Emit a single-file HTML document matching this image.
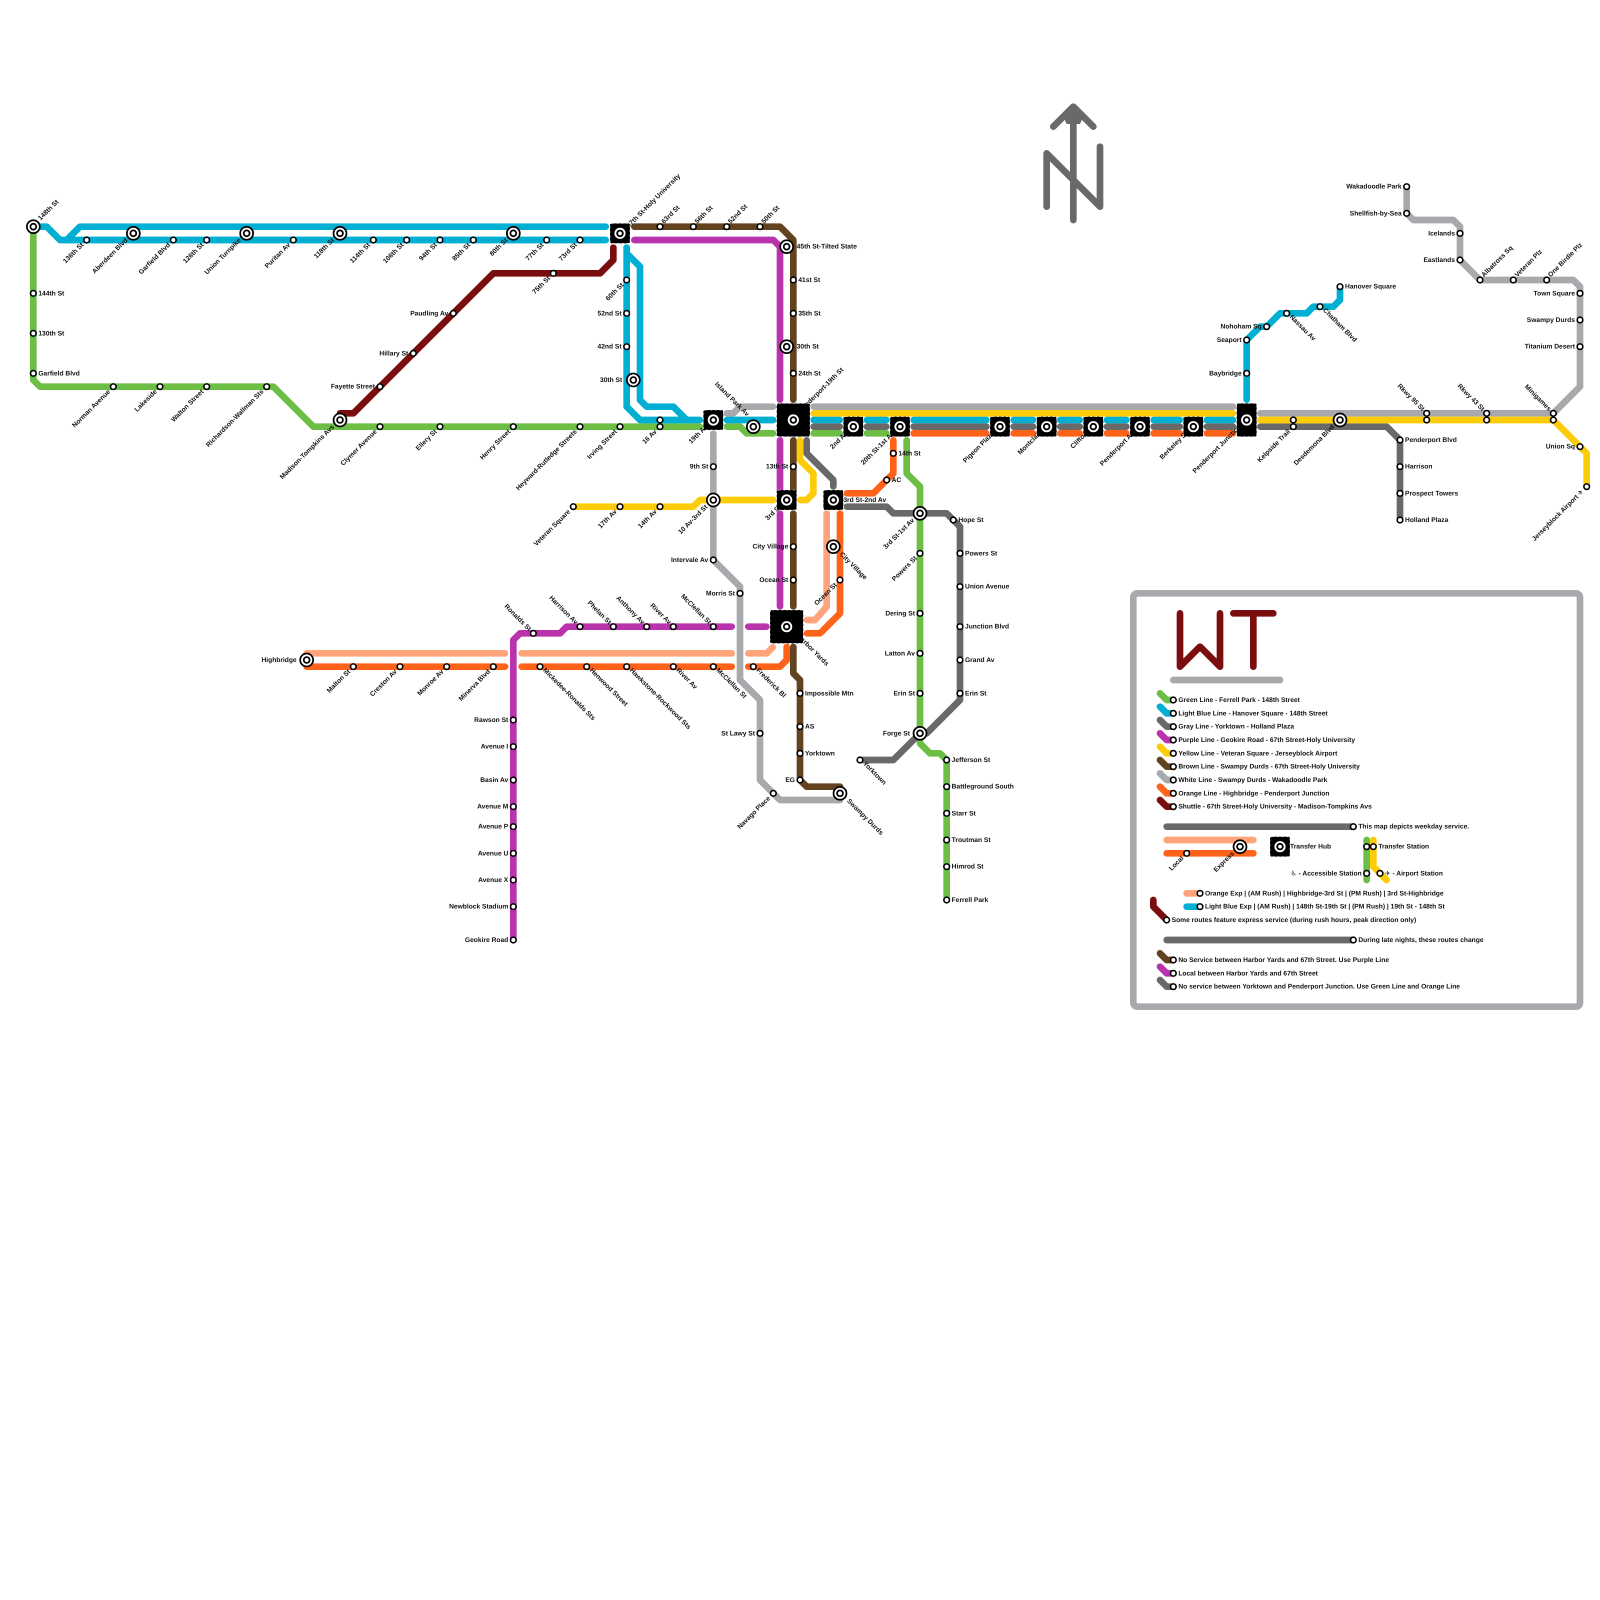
<!DOCTYPE html>
<html><head><meta charset="utf-8"><title>WT Transit Map</title>
<style>
html,body{margin:0;padding:0;background:#fff}
svg{display:block}
text{font-family:"Liberation Sans","DejaVu Sans",sans-serif;font-size:1px;font-weight:bold;fill:#111;text-rendering:geometricPrecision}
.ln{fill:none;stroke-width:1;stroke-linecap:round;stroke-linejoin:round}
.g{stroke:#6cbe45}.b{stroke:#00afd1}.y{stroke:#696969}.p{stroke:#b933ad}.o{stroke:#fccc0a}.n{stroke:#62421f}.w{stroke:#a7a9ac}.r{stroke:#ff6319}.s{stroke:#7a0e0e}.k{stroke:#ffa37a}
.end{text-anchor:end}
</style></head><body>
<svg xmlns="http://www.w3.org/2000/svg" width="1600" height="1600" viewBox="0 0 240 240">
<defs>
<g id="s"><circle r=".42" fill="#fff" stroke="#000" stroke-width=".24"/></g>
<g id="d"><circle r=".97" fill="#fff" stroke="#000" stroke-width=".26"/><circle r=".44" fill="#fff" stroke="#000" stroke-width=".26"/></g>
<g id="c"><circle r=".7" fill="#000" stroke="#fff" stroke-width=".28"/><circle r=".28" fill="#fff"/></g>
<g id="h3"><rect x="-1.5" y="-1.5" width="3" height="3" rx=".3" fill="#000" stroke="#fff" stroke-width=".08" stroke-dasharray=".35 .35"/><use href="#c"/></g>
<g id="h5"><rect x="-2.5" y="-2.5" width="5" height="5" rx=".3" fill="#000" stroke="#fff" stroke-width=".08" stroke-dasharray=".35 .35"/><use href="#c"/></g>
<g id="hv"><rect x="-1.5" y="-2.5" width="3" height="5" rx=".3" fill="#000" stroke="#fff" stroke-width=".08" stroke-dasharray=".35 .35"/><use href="#c"/></g>
</defs>

<!-- north arrow -->
<g class="ln" style="stroke:#696969">
<path d="M161,33V16.5"/>
<path d="M158,19L161,16L164,19" />
<path d="M157,31V23L165,31V22"/>
</g>
<polygon points="159.5,17.5 161,16 162.5,17.5 162,18.6 160,18.6" fill="#696969"/>

<!-- legend frame -->
<rect x="170" y="89" width="67" height="62" rx=".6" fill="#fff" stroke="#a7a9ac" stroke-width="1"/>
<g class="ln">
<path class="s" d="M177,92V100L180,97L183,100V92M185,92H191M188,92V100"/>
<path class="w" d="M176,102H192"/>
<path class="g" d="M174,104L175,105H176"/>
<path class="b" d="M174,106L175,107H176"/>
<path class="y" d="M174,108L175,109H176"/>
<path class="p" d="M174,110L175,111H176"/>
<path class="o" d="M174,112L175,113H176"/>
<path class="n" d="M174,114L175,115H176"/>
<path class="w" d="M174,116L175,117H176"/>
<path class="r" d="M174,118L175,119H176"/>
<path class="s" d="M174,120L175,121H176"/>
<path class="y" d="M175,124H203"/>
<path class="k" d="M175,126H188"/>
<path class="r" d="M175,128H188"/>
<path class="g" d="M205,126V132"/>
<path class="o" d="M206,126V130L208,132"/>
<path class="k" d="M178,134H180"/>
<path class="b" d="M178,136H180"/>
<path class="s" d="M173,135V136L175,138"/>
<path class="y" d="M175,141H203"/>
<path class="n" d="M174,143L175,144H176"/>
<path class="p" d="M174,145L175,146H176"/>
<path class="y" d="M174,147L175,148H176"/>
</g>

<!-- lines -->
<g class="ln">
<!-- white -->
<path class="w" d="M109.05,62H110L111,61H115.95M122.05,61H184.95M189.05,62H233L237,58V43L236,42H222L219,39V34L218,33H212L211,32V28"/>
<path class="w" d="M107,65.05V84L111,88V102L114,105V117L117,120H126"/>
<!-- green -->
<path class="g" d="M5,34V57L6,58H41L47,64H104.95M109.05,64H111L112,65H115.95M122.05,65H125.95M130.05,65H132.95"/>
<path class="g" d="M136,66.05V71L138,73V111.5L139.5,113H141L142,114V135"/>
<!-- blue -->
<path class="b" d="M5,34H7L9,36H90.85M10,36L12,34H90.85"/>
<path class="b" d="M94,37.15V61L96,63H104.95M94,38L96,40V60L97,61H101L103,63M109.05,63H115.95"/>
<path class="b" d="M122.05,63H125.95M130.05,63H132.95M137.05,63H147.95M152.05,63H154.95M159.05,63H161.95M166.05,63H168.95M173.05,63H176.95M181.05,63H184.95"/>
<path class="b" d="M187,59.95V51L189,49H190L192,47H196L197,46H200L201,45V43"/>
<!-- gray -->
<path class="y" d="M122.05,64H125.95M130.05,64H132.95M137.05,64H147.95M152.05,64H154.95M159.05,64H161.95M166.05,64H168.95M173.05,64H176.95M181.05,64H184.95M189.05,64H208L210,66V78"/>
<path class="y" d="M121,66.05V68L125,72V72.95M127.05,76H133L134,77H142L144,79V105L139,110H138L134,114H129"/>
<!-- yellow -->
<path class="o" d="M122.05,62H184.95M189.05,63H233L237,67L238,68V73"/>
<path class="o" d="M86,76H104L105,75H115.95M120,66.05V69L122,71V74L121,75H120.05"/>
<!-- orange + peach -->
<path class="r" d="M137.05,65H147.95M152.05,65H154.95M159.05,65H161.95M166.05,65H168.95M173.05,65H176.95M181.05,65H184.95"/>
<path class="r" d="M134,66.05V71L131,74H127.05"/>
<path class="r" d="M46,100H75.75M78.25,100H109.75M112.25,100H117L118,99V97.05"/>
<path class="k" d="M46,98H75.75M78.25,98H109.75M112.25,98H115L115.9,97.1"/>
<path class="k" d="M121.05,93H122.25L124,91V77.05"/>
<path class="r" d="M121.05,95H123L126,92V77.05"/>
<!-- purple -->
<path class="p" d="M77,141V96L78,95H84L85,94H109.75M112.25,94H114.95"/>
<path class="p" d="M95.15,36H116L117,37V59.95M117,66.05V73.95M117,77.05V90.95"/>
<!-- brown -->
<path class="n" d="M95.15,34H117L119,36V59.95M119,66.05V73.95M119,77.05V90.95M119,97.05V101L120,102V117L121,118H126"/>
<!-- shuttle -->
<path class="s" d="M51,62H53L74,41H90L92,39V37.15"/>
</g>

<!-- labels: right -->
<g transform="translate(.75,.3)">
<text x="5" y="44">144th St</text><text x="5" y="50">130th St</text><text x="5" y="56">Garfield Blvd</text>
<text x="118.75" y="37">45th St-Tilted State</text><text x="119" y="42">41st St</text><text x="119" y="47">35th St</text><text x="118.75" y="52">30th St</text><text x="119" y="56">24th St</text>
<text x="134" y="68">14th St</text><text x="133" y="72">AC</text><text x="125.75" y="75">3rd St-2nd Av</text><text x="143" y="78">Hope St</text>
<text x="144" y="83">Powers St</text><text x="144" y="88">Union Avenue</text><text x="144" y="94">Junction Blvd</text><text x="144" y="99">Grand Av</text><text x="144" y="104">Erin St</text>
<text x="120" y="104">Impossible Mtn</text><text x="120" y="109">AS</text><text x="120" y="113">Yorktown</text>
<text x="142" y="114">Jefferson St</text><text x="142" y="118">Battleground South</text><text x="142" y="122">Starr St</text><text x="142" y="126">Troutman St</text><text x="142" y="130">Himrod St</text><text x="142" y="135">Ferrell Park</text>
<text x="201" y="43">Hanover Square</text><text x="210" y="66">Penderport Blvd</text><text x="210" y="70">Harrison</text><text x="210" y="74">Prospect Towers</text><text x="210" y="78">Holland Plaza</text>
<text x="176" y="105">Green Line - Ferrell Park - 148th Street</text>
<text x="176" y="107">Light Blue Line - Hanover Square - 148th Street</text>
<text x="176" y="109">Gray Line - Yorktown - Holland Plaza</text>
<text x="176" y="111">Purple Line - Geokire Road - 67th Street-Holy University</text>
<text x="176" y="113">Yellow Line - Veteran Square - Jerseyblock Airport</text>
<text x="176" y="115">Brown Line - Swampy Durds - 67th Street-Holy University</text>
<text x="176" y="117">White Line - Swampy Durds - Wakadoodle Park</text>
<text x="176" y="119">Orange Line - Highbridge - Penderport Junction</text>
<text x="176" y="121">Shuttle - 67th Street-Holy University - Madison-Tompkins Avs</text>
<text x="203" y="124">This map depicts weekday service.</text>
<text x="192.75" y="127">Transfer Hub</text>
<text x="206" y="127">Transfer Station</text>
<text x="207" y="131">✈ - Airport Station</text>
<text x="180" y="134">Orange Exp | (AM Rush) | Highbridge-3rd St | (PM Rush) | 3rd St-Highbridge</text>
<text x="180" y="136">Light Blue Exp | (AM Rush) | 148th St-19th St | (PM Rush) | 19th St - 148th St</text>
<text x="175" y="138">Some routes feature express service (during rush hours, peak direction only)</text>
<text x="203" y="141">During late nights, these routes change</text>
<text x="176" y="144">No Service between Harbor Yards and 67th Street. Use Purple Line</text>
<text x="176" y="146">Local between Harbor Yards and 67th Street</text>
<text x="176" y="148">No service between Yorktown and Penderport Junction. Use Green Line and Orange Line</text>
</g>
<!-- labels: left -->
<g transform="translate(-.75,.3)" class="end">
<text x="68" y="47">Paudling Av</text><text x="62" y="53">Hillary St</text><text x="57" y="58">Fayette Street</text>
<text x="94" y="47">52nd St</text><text x="94" y="52">42nd St</text><text x="94.1" y="57">30th St</text>
<text x="107" y="70">9th St</text><text x="107" y="84">Intervale Av</text><text x="119" y="70">13th St</text><text x="119" y="82">City Village</text><text x="119" y="87">Ocean St</text>
<text x="111" y="89">Morris St</text><text x="114" y="110">St Lawy St</text><text x="120" y="117">EG</text>
<text x="77" y="108">Rawson St</text><text x="77" y="112">Avenue I</text><text x="77" y="117">Basin Av</text><text x="77" y="121">Avenue M</text><text x="77" y="124">Avenue P</text><text x="77" y="128">Avenue U</text><text x="77" y="132">Avenue X</text><text x="77" y="136">Newblock Stadium</text><text x="77" y="141">Geokire Road</text>
<text x="45.25" y="99">Highbridge</text>
<text x="138" y="92">Dering St</text><text x="138" y="98">Latton Av</text><text x="138" y="104">Erin St</text><text x="137.25" y="110">Forge St</text>
<text x="190" y="49">Nohoham Sq</text><text x="187" y="51">Seaport</text><text x="187" y="56">Baybridge</text>
<text x="211" y="28">Wakadoodle Park</text><text x="211" y="32">Shellfish-by-Sea</text><text x="219" y="35">Icelands</text><text x="219" y="39">Eastlands</text>
<text x="237" y="44">Town Square</text><text x="237" y="48">Swampy Durds</text><text x="237" y="52">Titanium Desert</text><text x="237" y="67">Union Sq</text>
<text x="205" y="131">♿ - Accessible Station</text>
</g>
<!-- labels: down-left, small stations -->
<g transform="translate(-.4,.8)" class="end">
<text transform="translate(13 36) rotate(-45)">136th St</text>
<text transform="translate(26 36) rotate(-45)">Garfield Blvd</text>
<text transform="translate(31 36) rotate(-45)">126th St</text>
<text transform="translate(44 36) rotate(-45)">Puritan Av</text>
<text transform="translate(56 36) rotate(-45)">114th St</text>
<text transform="translate(61 36) rotate(-45)">106th St</text>
<text transform="translate(66 36) rotate(-45)">94th St</text>
<text transform="translate(71 36) rotate(-45)">85th St</text>
<text transform="translate(82 36) rotate(-45)">77th St</text>
<text transform="translate(87 36) rotate(-45)">73rd St</text>
<text transform="translate(83 41) rotate(-45)">75th St</text>
<text transform="translate(94 42) rotate(-45)">60th St</text>
<text transform="translate(17 58) rotate(-45)">Norman Avenue</text>
<text transform="translate(24 58) rotate(-45)">Lakeside</text>
<text transform="translate(31 58) rotate(-45)">Walton Street</text>
<text transform="translate(40 58) rotate(-45)">Richardson-Wallman Sts</text>
<text transform="translate(57 64) rotate(-45)">Clymer Avenue</text>
<text transform="translate(66 64) rotate(-45)">Ellery St</text>
<text transform="translate(77 64) rotate(-45)">Henry Street</text>
<text transform="translate(87 64) rotate(-45)">Heyward-Rutledge Streets</text>
<text transform="translate(93 64) rotate(-45)">Irving Street</text>
<text transform="translate(99 64) rotate(-45)">16 Av</text>
<text transform="translate(86 76) rotate(-45)">Veteran Square</text>
<text transform="translate(93 76) rotate(-45)">17th Av</text>
<text transform="translate(99 76) rotate(-45)">14th Av</text>
<text transform="translate(53 100) rotate(-45)">Malton St</text>
<text transform="translate(60 100) rotate(-45)">Creston Av</text>
<text transform="translate(67 100) rotate(-45)">Monroe Av</text>
<text transform="translate(74 100) rotate(-45)">Minerva Blvd</text>
<text transform="translate(126 87) rotate(-45)">Ocean St</text>
<text transform="translate(138 83) rotate(-45)">Powers St</text>
<text transform="translate(116 119) rotate(-45)">Navago Place</text>
<text transform="translate(194 64) rotate(-45)">Kelpside Trail</text>
<text transform="translate(178 128) rotate(-45)">Local</text>
<text transform="translate(238 73) rotate(-45)">Jerseyblock Airport ✈</text>
</g>
<!-- labels: down-left, big stations and hubs -->
<g transform="translate(-.8,1.1)" class="end">
<text transform="translate(20 35) rotate(-45)">Aberdeen Blvd</text>
<text transform="translate(37 35) rotate(-45)">Union Turnpike</text>
<text transform="translate(51 35) rotate(-45)">118th St</text>
<text transform="translate(77 35) rotate(-45)">80th St</text>
<text transform="translate(51 63) rotate(-45)">Madison-Tompkins Avs</text>
<text transform="translate(107 75) rotate(-45)">10 Av-3rd St</text>
<text transform="translate(138 77) rotate(-45)">3rd St-1st Av</text>
<text transform="translate(201 63) rotate(-45)">Desdemona Blvd</text>
<text transform="translate(186 127) rotate(-45)">Express</text>
<text transform="translate(107 63) rotate(-45)">19th Av</text>
<text transform="translate(118 75) rotate(-45)">3rd St</text>
<text transform="translate(128 64) rotate(-45)">2nd Av</text>
<text transform="translate(135 64) rotate(-45)">20th St-1st Av</text>
<text transform="translate(150 64) rotate(-45)">Pigeon Plaza</text>
<text transform="translate(157 64) rotate(-45)">Montclair</text>
<text transform="translate(164 64) rotate(-45)">Clifton</text>
<text transform="translate(171 64) rotate(-45)">Penderport Av</text>
<text transform="translate(179 64) rotate(-45)">Berkeley St</text>
<text transform="translate(187 63) rotate(-45)">Penderport Junction</text>
</g>
<!-- labels: up-right -->
<g transform="translate(.6,-.4)">
<text transform="translate(5.5 33.5) rotate(-45)">148th St</text>
<text transform="translate(99 34) rotate(-45)">63rd St</text>
<text transform="translate(104 34) rotate(-45)">56th St</text>
<text transform="translate(109 34) rotate(-45)">52nd St</text>
<text transform="translate(114 34) rotate(-45)">50th St</text>
<text transform="translate(222 42) rotate(-45)">Albatross Sq</text>
<text transform="translate(227 42) rotate(-45)">Veteran Plz</text>
<text transform="translate(232 42) rotate(-45)">One Birdie Plz</text>
<text transform="translate(93.75 34.6) rotate(-45)">67th St-Holy University</text>
<text transform="translate(119.6 62.3) rotate(-45)">Penderport-19th St</text>
</g>
<!-- labels: up-left -->
<g transform="translate(-.7,-.3)" class="end">
<text transform="translate(80 95) rotate(45)">Ronalds St</text>
<text transform="translate(87 94) rotate(45)">Harrison Av</text>
<text transform="translate(92 94) rotate(45)">Phelan St</text>
<text transform="translate(97 94) rotate(45)">Anthony Av</text>
<text transform="translate(101 94) rotate(45)">River Av</text>
<text transform="translate(107 94) rotate(45)">McClellan St</text>
<text transform="translate(214 62) rotate(45)">Rkwy 95 St</text>
<text transform="translate(223 62) rotate(45)">Rkwy 43 St</text>
<text transform="translate(233 62) rotate(45)">Minigames</text>
<text transform="translate(112.7 62.8) rotate(45)">Island Park Av</text>
</g>
<!-- labels: down-right -->
<g transform="translate(.4,.6)">
<text transform="translate(81 100) rotate(45)">Mickedee-Ronalds Sts</text>
<text transform="translate(88 100) rotate(45)">Henwood Street</text>
<text transform="translate(94 100) rotate(45)">Hawkstone-Rockwood Sts</text>
<text transform="translate(101 100) rotate(45)">River Av</text>
<text transform="translate(107 100) rotate(45)">McClellan St</text>
<text transform="translate(113 100) rotate(45)">Frederick Bl</text>
<text transform="translate(129 114) rotate(45)">Yorktown</text>
<text transform="translate(193 47) rotate(45)">Nassau Av</text>
<text transform="translate(198 46) rotate(45)">Chatham Blvd</text>
<text transform="translate(126.6 119.6) rotate(45)">Swampy Durds</text>
<text transform="translate(125.5 82.6) rotate(45)">City Village</text>
<text transform="translate(119.1 94.9) rotate(45)">Harbor Yards</text>
</g>

<!-- small stations -->
<g>
<use href="#s" x="5" y="44"/><use href="#s" x="5" y="50"/><use href="#s" x="5" y="56"/>
<use href="#s" x="17" y="58"/><use href="#s" x="24" y="58"/><use href="#s" x="31" y="58"/><use href="#s" x="40" y="58"/>
<use href="#s" x="57" y="64"/><use href="#s" x="66" y="64"/><use href="#s" x="77" y="64"/><use href="#s" x="87" y="64"/><use href="#s" x="93" y="64"/><use href="#s" x="99" y="64"/><use href="#s" x="99" y="63"/>
<use href="#s" x="13" y="36"/><use href="#s" x="26" y="36"/><use href="#s" x="31" y="36"/><use href="#s" x="44" y="36"/><use href="#s" x="56" y="36"/><use href="#s" x="61" y="36"/><use href="#s" x="66" y="36"/><use href="#s" x="71" y="36"/><use href="#s" x="82" y="36"/><use href="#s" x="87" y="36"/>
<use href="#s" x="57" y="58"/><use href="#s" x="62" y="53"/><use href="#s" x="68" y="47"/><use href="#s" x="83" y="41"/>
<use href="#s" x="94" y="42"/><use href="#s" x="94" y="47"/><use href="#s" x="94" y="52"/>
<use href="#s" x="99" y="34"/><use href="#s" x="104" y="34"/><use href="#s" x="109" y="34"/><use href="#s" x="114" y="34"/>
<use href="#s" x="119" y="42"/><use href="#s" x="119" y="47"/><use href="#s" x="119" y="56"/><use href="#s" x="119" y="70"/><use href="#s" x="119" y="82"/><use href="#s" x="119" y="87"/>
<use href="#s" x="107" y="70"/><use href="#s" x="107" y="84"/><use href="#s" x="111" y="89"/><use href="#s" x="114" y="110"/><use href="#s" x="116" y="119"/>
<use href="#s" x="86" y="76"/><use href="#s" x="93" y="76"/><use href="#s" x="99" y="76"/>
<use href="#s" x="53" y="100"/><use href="#s" x="60" y="100"/><use href="#s" x="67" y="100"/><use href="#s" x="74" y="100"/><use href="#s" x="81" y="100"/><use href="#s" x="88" y="100"/><use href="#s" x="94" y="100"/><use href="#s" x="101" y="100"/><use href="#s" x="107" y="100"/><use href="#s" x="113" y="100"/>
<use href="#s" x="80" y="95"/><use href="#s" x="87" y="94"/><use href="#s" x="92" y="94"/><use href="#s" x="97" y="94"/><use href="#s" x="101" y="94"/><use href="#s" x="107" y="94"/>
<use href="#s" x="77" y="108"/><use href="#s" x="77" y="112"/><use href="#s" x="77" y="117"/><use href="#s" x="77" y="121"/><use href="#s" x="77" y="124"/><use href="#s" x="77" y="128"/><use href="#s" x="77" y="132"/><use href="#s" x="77" y="136"/><use href="#s" x="77" y="141"/>
<use href="#s" x="120" y="104"/><use href="#s" x="120" y="109"/><use href="#s" x="120" y="113"/><use href="#s" x="120" y="117"/>
<use href="#s" x="134" y="68"/><use href="#s" x="133" y="72"/><use href="#s" x="126" y="87"/>
<use href="#s" x="143" y="78"/><use href="#s" x="144" y="83"/><use href="#s" x="144" y="88"/><use href="#s" x="144" y="94"/><use href="#s" x="144" y="99"/><use href="#s" x="144" y="104"/>
<use href="#s" x="138" y="83"/><use href="#s" x="138" y="92"/><use href="#s" x="138" y="98"/><use href="#s" x="138" y="104"/>
<use href="#s" x="129" y="114"/><use href="#s" x="142" y="114"/><use href="#s" x="142" y="118"/><use href="#s" x="142" y="122"/><use href="#s" x="142" y="126"/><use href="#s" x="142" y="130"/><use href="#s" x="142" y="135"/>
<use href="#s" x="187" y="56"/><use href="#s" x="187" y="51"/><use href="#s" x="190" y="49"/><use href="#s" x="193" y="47"/><use href="#s" x="198" y="46"/><use href="#s" x="201" y="43"/>
<use href="#s" x="194" y="63"/><use href="#s" x="194" y="64"/><use href="#s" x="214" y="62"/><use href="#s" x="214" y="63"/><use href="#s" x="223" y="62"/><use href="#s" x="223" y="63"/><use href="#s" x="233" y="62"/><use href="#s" x="233" y="63"/>
<use href="#s" x="210" y="66"/><use href="#s" x="210" y="70"/><use href="#s" x="210" y="74"/><use href="#s" x="210" y="78"/>
<use href="#s" x="237" y="67"/><use href="#s" x="238" y="73"/>
<use href="#s" x="237" y="52"/><use href="#s" x="237" y="48"/><use href="#s" x="237" y="44"/><use href="#s" x="232" y="42"/><use href="#s" x="227" y="42"/><use href="#s" x="222" y="42"/><use href="#s" x="219" y="39"/><use href="#s" x="219" y="35"/><use href="#s" x="211" y="32"/><use href="#s" x="211" y="28"/>
<use href="#s" x="176" y="105"/><use href="#s" x="176" y="107"/><use href="#s" x="176" y="109"/><use href="#s" x="176" y="111"/><use href="#s" x="176" y="113"/><use href="#s" x="176" y="115"/><use href="#s" x="176" y="117"/><use href="#s" x="176" y="119"/><use href="#s" x="176" y="121"/>
<use href="#s" x="203" y="124"/><use href="#s" x="178" y="128"/><use href="#s" x="205" y="127"/><use href="#s" x="206" y="127"/><use href="#s" x="205" y="131"/><use href="#s" x="207" y="131"/>
<use href="#s" x="180" y="134"/><use href="#s" x="180" y="136"/><use href="#s" x="175" y="138"/><use href="#s" x="203" y="141"/><use href="#s" x="176" y="144"/><use href="#s" x="176" y="146"/><use href="#s" x="176" y="148"/>
</g>
<!-- big stations -->
<g>
<use href="#d" x="5" y="34"/><use href="#d" x="20" y="35"/><use href="#d" x="37" y="35"/><use href="#d" x="51" y="35"/><use href="#d" x="77" y="35"/><use href="#d" x="51" y="63"/><use href="#d" x="95" y="57"/><use href="#d" x="113" y="64"/><use href="#d" x="118" y="37"/><use href="#d" x="118" y="52"/><use href="#d" x="107" y="75"/><use href="#d" x="125" y="82"/><use href="#d" x="126" y="119"/><use href="#d" x="46" y="99"/><use href="#d" x="138" y="77"/><use href="#d" x="138" y="110"/><use href="#d" x="201" y="63"/><use href="#d" x="186" y="127"/>
</g>
<!-- hubs -->
<g>
<use href="#h3" x="93" y="35"/><use href="#h3" x="107" y="63"/><use href="#h3" x="118" y="75"/><use href="#h3" x="125" y="75"/><use href="#h3" x="128" y="64"/><use href="#h3" x="135" y="64"/><use href="#h3" x="150" y="64"/><use href="#h3" x="157" y="64"/><use href="#h3" x="164" y="64"/><use href="#h3" x="171" y="64"/><use href="#h3" x="179" y="64"/><use href="#h3" x="192" y="127"/>
<use href="#hv" x="187" y="63"/><use href="#h5" x="119" y="63"/><use href="#h5" x="118" y="94"/>
</g>
</svg>
</body></html>
